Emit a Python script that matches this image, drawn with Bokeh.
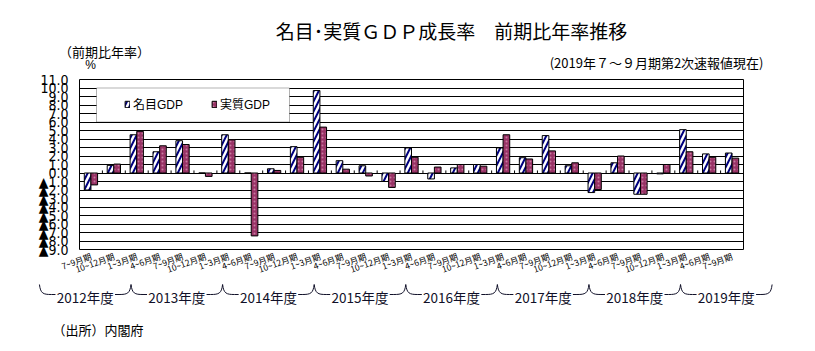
from bokeh.plotting import figure
from bokeh.models import (FixedTicker, Range1d, Legend, LegendItem, AllLabels,
                          ColumnDataSource, BoxAnnotation)
from bokeh.layouts import column
from bokeh.embed import file_html
from bokeh.resources import INLINE
from bokeh.core.properties import value

# ---------------- data ----------------
quarters = ["7~9月期", "10~12月期", "1~3月期",
            "4~6月期", "7~9月期", "10~12月期", "1~3月期",
            "4~6月期", "7~9月期", "10~12月期", "1~3月期",
            "4~6月期", "7~9月期", "10~12月期", "1~3月期",
            "4~6月期", "7~9月期", "10~12月期", "1~3月期",
            "4~6月期", "7~9月期", "10~12月期", "1~3月期",
            "4~6月期", "7~9月期", "10~12月期", "1~3月期",
            "4~6月期", "7~9月期"]
nominal = [-2.0, 0.9, 4.5, 2.5, 3.8, 0.0, 4.5, 0.0, 0.5, 3.1,
           9.7, 1.45, 0.85, -1.0, 2.95, -0.7, 0.6, 1.0, 2.95, 1.8,
           4.4, 0.85, -2.3, 1.2, -2.5, -0.1, 5.1, 2.25, 2.35]
real = [-1.4, 1.05, 4.9, 3.2, 3.35, -0.4, 3.9, -7.4, 0.3, 1.85,
        5.4, 0.45, -0.35, -1.7, 1.85, 0.7, 1.0, 0.8, 4.5, 1.65,
        2.6, 1.2, -1.95, 2.0, -2.5, 1.0, 2.5, 1.85, 1.75]
fiscal_years = ["2012年度", "2013年度", "2014年度", "2015年度",
                "2016年度", "2017年度", "2018年度", "2019年度"]
y_tick_values = list(range(-9, 12))
y_tick_labels = ["▲9.0", "▲8.0", "▲7.0", "▲6.0", "▲5.0", "▲4.0", "▲3.0",
                 "▲2.0", "▲1.0", "0.0", "1.0", "2.0", "3.0", "4.0", "5.0",
                 "6.0", "7.0", "8.0", "9.0", "10.0", "11.0"]
series_names = ["名目GDP", "実質GDP"]
title_text = "名目･実質ＧＤＰ成長率　前期比年率推移"
subtitle_text = "(2019年７～９月期第2次速報値現在)"
unit_text = "（前期比年率）"
source_text = "（出所）内閣府"

# ---------------- layout constants ----------------
W = 815
HEAD_H = 71
LEFT = 79
RIGHT_M = 72
TOP_B = 8
FRAME_W = W - LEFT - RIGHT_M
FRAME_H = 170
BOTTOM = 30
N = len(quarters)
UNIT = FRAME_W / N
CHART_H = TOP_B + FRAME_H + BOTTOM
FOOT_H = 351 - HEAD_H - CHART_H

def px2x(px):
    return (px - LEFT) / UNIT - 0.5

JP_NAME = "Noto Sans CJK JP"
JP = value(JP_NAME)
NARROW_NAME = "Liberation Sans Narrow, DejaVu Sans Condensed, Liberation Sans, sans-serif"

# ---------------- header ----------------
h = figure(width=W, height=HEAD_H, x_range=Range1d(0, W), y_range=Range1d(HEAD_H, 0),
           output_backend="svg", toolbar_location=None, min_border=0,
           x_axis_type=None, y_axis_type=None, frame_align=False)
h.outline_line_color = None
h.text(x=[451], y=[30], text=[title_text], text_font=JP, text_font_size="19px",
       text_align="center", text_baseline="middle", text_color="black")
h.text(x=[763], y=[62], text=[subtitle_text], text_font=JP, text_font_size="13px",
       text_align="right", text_baseline="middle", text_color="black")
h.text(x=[104], y=[51], text=[unit_text], text_font=JP, text_font_size="13px",
       text_align="center", text_baseline="middle", text_color="black")
h.text(x=[90], y=[64], text=["%"], text_font=value("Liberation Sans"), text_font_size="12px",
       text_align="center", text_baseline="middle", text_color="black")

# ---------------- chart ----------------
idx = list(range(N))
src = ColumnDataSource(dict(
    x=idx,
    xn=[i - 0.145 for i in idx],
    xr=[i + 0.145 for i in idx],
    nominal=nominal,
    real=real,
))

p = figure(frame_width=FRAME_W, frame_height=FRAME_H,
           x_range=Range1d(-0.5, N - 0.5), y_range=Range1d(-9, 11),
           output_backend="svg", toolbar_location=None, frame_align=False,
           min_border_left=LEFT, min_border_right=RIGHT_M, min_border_top=TOP_B,
           min_border_bottom=BOTTOM)
p.outline_line_color = "black"
p.outline_line_width = 1
p.xgrid.visible = False
p.ygrid.grid_line_color = "black"
p.ygrid.grid_line_alpha = 1.0
p.ygrid.grid_line_width = 1

p.yaxis.ticker = FixedTicker(ticks=y_tick_values)
p.yaxis.major_label_overrides = {v: l for v, l in zip(y_tick_values, y_tick_labels)}
p.yaxis.major_label_policy = AllLabels()
p.yaxis.axis_line_color = None
p.yaxis.major_tick_line_color = None
p.yaxis.minor_tick_line_color = None
p.yaxis.major_tick_out = 0
p.yaxis.minor_tick_out = 0
p.yaxis.major_label_standoff = 11
p.yaxis.major_label_text_font = NARROW_NAME
p.yaxis.major_label_text_font_size = "14px"
p.yaxis.major_label_text_color = "black"

p.xaxis.ticker = FixedTicker(ticks=idx)
p.xaxis.major_label_overrides = {i: q for i, q in zip(idx, quarters)}
p.xaxis.major_label_policy = AllLabels()
p.xaxis.major_label_orientation = 0.34
p.xaxis.axis_line_color = None
p.xaxis.major_tick_line_color = None
p.xaxis.minor_tick_line_color = None
p.xaxis.major_tick_out = 0
p.xaxis.minor_tick_out = 0
p.xaxis.major_label_standoff = 6
p.xaxis.major_label_text_font = JP_NAME
p.xaxis.major_label_text_font_size = "8.5px"
p.xaxis.major_label_text_color = "black"

# category tick marks on the zero line
p.segment(x0=[i + 0.5 for i in idx[:-1]], y0=[0] * (N - 1),
          x1=[i + 0.5 for i in idx[:-1]], y1=[0.3] * (N - 1),
          line_color="black", line_width=1)

bw = 0.29
r1 = p.vbar(x="xn", top="nominal", bottom=0, width=bw, source=src,
            fill_color="white", line_color="black", line_width=1,
            hatch_pattern="/", hatch_color="#000080", hatch_weight=2, hatch_scale=10)
r2 = p.vbar(x="xr", top="real", bottom=0, width=bw, source=src,
            fill_color="#993366", line_color="black", line_width=1,
            hatch_pattern=".", hatch_color="#c77ba0", hatch_weight=1, hatch_scale=4)

# legend box
box = BoxAnnotation(left=px2x(96), right=px2x(289), top=10, bottom=6,
                    fill_color="white", fill_alpha=1.0, line_color="black", line_width=1)
p.add_layout(box)

legend = Legend(items=[LegendItem(label=series_names[0], renderers=[r1]),
                       LegendItem(label=series_names[1], renderers=[r2])],
                orientation="horizontal", location=(45, 137),
                border_line_color=None, background_fill_alpha=0.0,
                padding=0, margin=0, spacing=28, glyph_width=6, glyph_height=8,
                label_standoff=3, label_height=14,
                label_text_font="Liberation Sans, Noto Sans CJK JP",
                label_text_font_size="12px", label_text_color="black")
p.add_layout(legend)

# ---------------- footer (fiscal-year braces, source) ----------------
f = figure(width=W, height=FOOT_H, x_range=Range1d(px2x(0), px2x(W)), y_range=Range1d(FOOT_H, 0),
           output_backend="svg", toolbar_location=None, min_border=0,
           x_axis_type=None, y_axis_type=None, frame_align=False)
f.outline_line_color = None

shift = -0.75
cw = 12 / UNIT        # curl width
half_text = 1.3       # half text width (category units)
starts = [4 * k - 1.5 + shift for k in range(len(fiscal_years))]
ends = [s + 4 for s in starts]
centers = [s + 2 for s in starts]
top_y, line_y = 1, 11
nfy = len(fiscal_years)
f.bezier(x0=starts, y0=[top_y] * nfy, x1=[s + cw for s in starts], y1=[line_y] * nfy,
         cx0=[s + 0.05 for s in starts], cy0=[line_y - 1] * nfy,
         cx1=[s + cw * 0.3 for s in starts], cy1=[line_y] * nfy,
         line_color="#101028", line_width=1)
f.bezier(x0=ends, y0=[top_y] * nfy, x1=[e - cw for e in ends], y1=[line_y] * nfy,
         cx0=[e - 0.05 for e in ends], cy0=[line_y - 1] * nfy,
         cx1=[e - cw * 0.3 for e in ends], cy1=[line_y] * nfy,
         line_color="#101028", line_width=1)
f.segment(x0=[s + cw for s in starts], y0=[line_y] * nfy,
          x1=[c - half_text for c in centers], y1=[line_y] * nfy,
          line_color="#101028", line_width=1)
f.segment(x0=[c + half_text for c in centers], y0=[line_y] * nfy,
          x1=[e - cw for e in ends], y1=[line_y] * nfy,
          line_color="#101028", line_width=1)
f.text(x=centers, y=[line_y + 2] * nfy, text=fiscal_years, text_font=JP,
       text_font_size="13.5px", text_align="center", text_baseline="middle",
       text_color="#101028")
f.text(x=[px2x(52)], y=[46], text=[source_text], text_font=JP, text_font_size="13px",
       text_align="left", text_baseline="middle", text_color="black")

layout = column(h, p, f, spacing=0)
open("out.html", "w").write(file_html(layout, INLINE))
